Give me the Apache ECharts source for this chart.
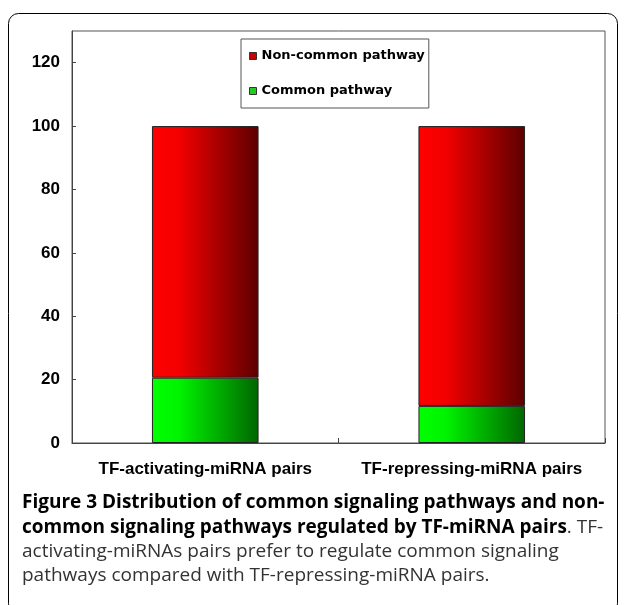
<!DOCTYPE html>
<html>
<head>
<meta charset="utf-8">
<script src="https://cdn.jsdelivr.net/npm/echarts@6/dist/echarts.min.js"></script>
<style>
  html, body { margin: 0; padding: 0; background: #fff; }
  #chart { width: 625px; height: 605px; }
</style>
</head>
<body>
<div id="chart"></div>
<script>
// Pair groups on the x axis
const categories = ['TF-activating-miRNA pairs', 'TF-repressing-miRNA pairs'];
// Percentage of pathways per group (stacked to 100)
const commonPathway = [20.6, 11.7];
const nonCommonPathway = [79.4, 88.3];
// Value axis range and step
const yMin = 0;
const yMax = 130;
const yStep = 20;

const redFill = new echarts.graphic.LinearGradient(0, 0, 1, 0, [
  { offset: 0, color: '#ff0000' },
  { offset: 0.25, color: '#f40000' },
  { offset: 1, color: '#5c0000' }
]);
const greenFill = new echarts.graphic.LinearGradient(0, 0, 1, 0, [
  { offset: 0, color: '#00ff00' },
  { offset: 0.25, color: '#00f400' },
  { offset: 1, color: '#006600' }
]);

const chart = echarts.init(document.getElementById('chart'), null, { renderer: 'canvas' });

const captionFont = '"Open Sans", "DejaVu Sans", sans-serif';
const captionSize = 19;

chart.setOption({
  animation: false,
  backgroundColor: '#ffffff',
  grid: {
    left: 72, right: 20, top: 31, bottom: 162,
    show: true, borderColor: '#555', borderWidth: 1, backgroundColor: 'transparent'
  },
  legend: {
    orient: 'vertical',
    left: 241, top: 39,
    padding: [9, 4, 9, 8],
    itemGap: 19,
    itemWidth: 7, itemHeight: 7,
    icon: 'rect',
    borderColor: '#555', borderWidth: 1,
    textStyle: {
      fontFamily: '"DejaVu Sans", sans-serif',
      fontWeight: 'bold', fontSize: 13, color: '#000', lineHeight: 16,
      padding: [0, 0, 0, 0]
    },
    data: [
      { name: 'Non-common pathway', itemStyle: { color: '#cc0000', borderColor: '#333', borderWidth: 1 } },
      { name: 'Common pathway', itemStyle: { color: '#22cc22', borderColor: '#333', borderWidth: 1 } }
    ]
  },
  xAxis: {
    type: 'category',
    data: categories,
    boundaryGap: true,
    axisLine: { lineStyle: { color: '#444', width: 1 } },
    axisTick: { show: true, inside: true, length: 5, alignWithLabel: false, lineStyle: { color: '#444' } },
    axisLabel: {
      interval: 0,
      margin: 18,
      fontFamily: '"Liberation Sans", Arial, sans-serif',
      fontWeight: 'bold', fontSize: 17, color: '#000'
    },
    splitLine: { show: false }
  },
  yAxis: {
    type: 'value',
    min: yMin, max: yMax, interval: yStep,
    axisLine: { show: true, lineStyle: { color: '#444', width: 1 } },
    axisTick: { show: true, inside: true, length: 4, lineStyle: { color: '#444' } },
    axisLabel: {
      margin: 12, showMaxLabel: false,
      fontFamily: '"Liberation Sans", Arial, sans-serif',
      fontWeight: 'bold', fontSize: 17, color: '#000'
    },
    splitLine: { show: false }
  },
  series: [
    {
      name: 'Common pathway',
      type: 'bar',
      stack: 'total',
      barWidth: '40%',
      data: commonPathway,
      itemStyle: { color: greenFill, borderColor: '#222', borderWidth: 1 }
    },
    {
      name: 'Non-common pathway',
      type: 'bar',
      stack: 'total',
      barWidth: '40%',
      data: nonCommonPathway,
      itemStyle: { color: redFill, borderColor: '#222', borderWidth: 1 }
    }
  ],
  graphic: [
    {
      type: 'rect', silent: true, z: 100,
      shape: { x: 8.5, y: 13.5, width: 609, height: 600, r: 10 },
      style: { fill: 'none', stroke: '#000', lineWidth: 1 }
    },
    {
      type: 'text', left: 22, top: 493,
      style: {
        text: 'Figure 3 Distribution of common signaling pathways and non-',
        font: 'bold ' + captionSize + 'px ' + captionFont, fill: '#000'
      }
    },
    {
      type: 'text', left: 22, top: 518,
      style: {
        text: '{b|common signaling pathways regulated by TF-miRNA pairs}{r|. TF-}',
        rich: {
          b: { font: 'bold ' + captionSize + 'px ' + captionFont, fill: '#000' },
          r: { font: captionSize + 'px ' + captionFont, fill: '#333' }
        }
      }
    },
    {
      type: 'text', left: 22, top: 542,
      style: {
        text: 'activating-miRNAs pairs prefer to regulate common signaling',
        font: captionSize + 'px ' + captionFont, fill: '#333'
      }
    },
    {
      type: 'text', left: 22, top: 566,
      style: {
        text: 'pathways compared with TF-repressing-miRNA pairs.',
        font: captionSize + 'px ' + captionFont, fill: '#333'
      }
    }
  ]
});
</script>
</body>
</html>
